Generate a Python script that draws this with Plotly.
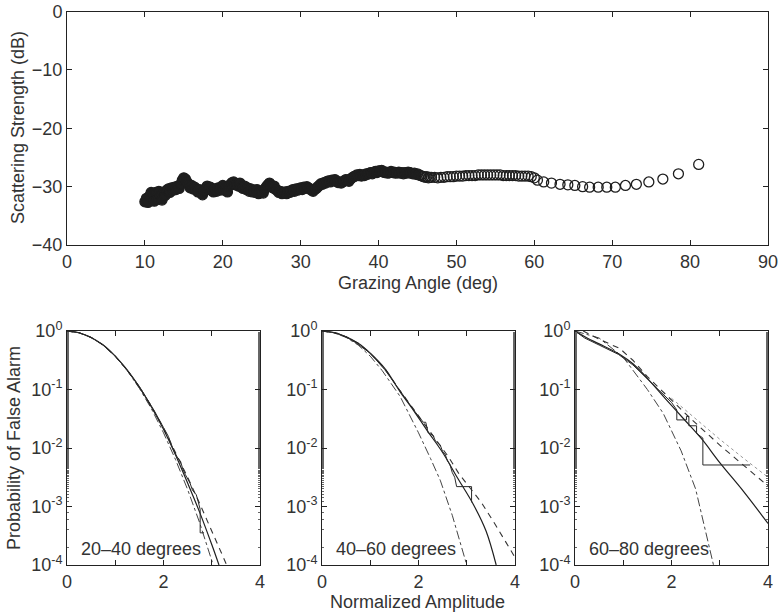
import plotly.graph_objects as go

# ---------------- Top panel data: scattering strength vs grazing angle ----------------
angle_dense = [
    10.0, 10.2, 10.4, 10.6, 10.8, 11.0, 11.2, 11.4, 11.6, 11.8,
    12.0, 12.2, 12.4, 12.6, 12.8, 13.0, 13.2, 13.4, 13.6, 13.8,
    14.0, 14.2, 14.4, 14.6, 14.8, 15.0, 15.2, 15.4, 15.6, 15.8,
    16.0, 16.2, 16.4, 16.6, 16.8, 17.0, 17.2, 17.4, 17.6, 17.8,
    18.0, 18.2, 18.4, 18.6, 18.8, 19.0, 19.2, 19.4, 19.6, 19.8,
    20.0, 20.2, 20.4, 20.6, 20.8, 21.0, 21.2, 21.4, 21.6, 21.8,
    22.0, 22.2, 22.4, 22.6, 22.8, 23.0, 23.2, 23.4, 23.6, 23.8,
    24.0, 24.2, 24.4, 24.6, 24.8, 25.0, 25.2, 25.4, 25.6, 25.8,
    26.0, 26.2, 26.4, 26.6, 26.8, 27.0, 27.2, 27.4, 27.6, 27.8,
    28.0, 28.2, 28.4, 28.6, 28.8, 29.0, 29.2, 29.4, 29.6, 29.8,
    30.0, 30.2, 30.4, 30.6, 30.8, 31.0, 31.2, 31.4, 31.6, 31.8,
    32.0, 32.2, 32.4, 32.6, 32.8, 33.0, 33.2, 33.4, 33.6, 33.8,
    34.0, 34.2, 34.4, 34.6, 34.8, 35.0, 35.2, 35.4, 35.6, 35.8,
    36.0, 36.2, 36.4, 36.6, 36.8, 37.0, 37.2, 37.4, 37.6, 37.8,
    38.0, 38.2, 38.4, 38.6, 38.8, 39.0, 39.2, 39.4, 39.6, 39.8,
    40.0, 40.2, 40.4, 40.6, 40.8, 41.0, 41.2, 41.4, 41.6, 41.8,
    42.0, 42.2, 42.4, 42.6, 42.8, 43.0, 43.2, 43.4, 43.6, 43.8,
    44.0, 44.2, 44.4, 44.6, 44.8, 45.0, 45.2, 45.4, 45.6, 45.8,
    46.0, 46.2, 46.4, 46.6, 46.8,
    47.2, 47.6, 48.0, 48.4, 48.8, 49.2, 49.6, 50.0, 50.4, 50.8,
    51.2, 51.6, 52.0, 52.4, 52.8, 53.2, 53.6, 54.0, 54.4, 54.8,
    55.2, 55.6, 56.0, 56.4, 56.8, 57.2, 57.6, 58.0, 58.4, 58.8,
    59.2, 59.6, 60.0,
    60.4, 61.2, 62.2, 63.3, 64.3, 65.2, 66.2, 67.1, 68.2, 69.3,
    70.4, 71.7, 73.1, 74.7, 76.5, 78.5, 81.1,
]
strength_db = [
    -32.6, -32.0, -32.7, -31.6, -31.0, -31.4, -32.5, -31.0, -32.2, -30.8,
    -31.6, -32.3, -31.1, -31.5, -30.6, -30.4, -31.0, -30.2, -30.6, -30.1,
    -30.5, -29.9, -30.3, -29.6, -28.9, -28.5, -28.7, -29.2, -29.6, -30.2,
    -29.8, -30.4, -30.1, -30.6, -30.9, -30.5, -31.1, -31.4, -30.8, -30.3,
    -29.9, -30.4, -30.1, -30.7, -30.9, -30.4, -30.8, -30.2, -30.6, -30.1,
    -29.8, -30.6, -30.2, -30.9, -29.9, -29.6, -29.3, -29.2, -29.7, -29.5,
    -29.9, -29.4, -30.1, -30.3, -29.9, -30.5, -30.2, -30.8, -30.4, -30.9,
    -30.6, -31.0, -30.5, -31.2, -30.8, -30.9, -31.1, -30.4, -30.0, -29.7,
    -29.4, -29.8, -30.2, -29.9, -30.5, -30.6, -31.0, -30.8, -31.2, -31.1,
    -30.9, -31.2, -30.8, -31.0, -30.7, -30.5, -30.8, -30.4, -30.6, -30.3,
    -30.2, -30.5, -30.1, -30.3, -30.0, -30.2, -30.4, -30.6, -30.8, -30.5,
    -30.3, -30.0, -29.8, -29.5, -29.6, -29.3, -29.4, -29.1, -29.0, -29.2,
    -28.9, -29.0, -28.8, -29.1, -29.3, -29.2, -29.4, -29.2, -29.0, -28.8,
    -28.9, -29.1, -28.7, -28.5, -28.3, -28.2, -28.0, -28.1, -27.9, -28.2,
    -28.0, -28.1, -27.8, -27.9, -27.7, -27.6, -27.8, -27.5, -27.4, -27.6,
    -27.3, -27.4, -27.2, -27.5, -27.6, -27.5, -27.7, -27.6, -27.4, -27.6,
    -27.5, -27.7, -27.6, -27.5, -27.7, -27.6, -27.8, -27.6, -27.7, -27.5,
    -27.6, -27.7, -27.8, -27.7, -27.9, -27.8, -28.0, -28.1, -28.2, -28.3,
    -28.4, -28.3, -28.5, -28.4, -28.4,
    -28.4, -28.5, -28.4, -28.4, -28.3, -28.3, -28.3, -28.2, -28.2, -28.2,
    -28.1, -28.1, -28.1, -28.1, -28.0, -28.0, -28.0, -28.0, -28.0, -28.0,
    -28.0, -28.0, -28.1, -28.1, -28.1, -28.1, -28.1, -28.2, -28.2, -28.2,
    -28.2, -28.3, -28.5,
    -28.9, -29.2, -29.4, -29.6, -29.7, -29.8, -30.0, -30.1, -30.1, -30.1,
    -30.1, -29.8, -29.6, -29.2, -28.7, -27.8, -26.2,
]
# below this angle the circles are so densely packed they print as a solid band
solid_band_limit = 45.0

# ---------------- Bottom panels: probability of false alarm (log10 values) ----------------
panel_labels = ["20\u201340 degrees", "40\u201360 degrees", "60\u201380 degrees"]

# Panel 1 (20-40 deg)
p1_emp_x = [0, 0.25, 0.5, 0.75, 1.0, 1.25, 1.5, 1.8, 2.0, 2.1, 2.2, 2.3, 2.35, 2.4, 2.45,
            2.5, 2.55, 2.6, 2.68, 2.72, 2.76, 2.76, 2.84]
p1_emp_logy = [0, -0.03, -0.11, -0.24, -0.43, -0.67, -0.95, -1.35, -1.65, -1.8, -2.02, -2.18,
               -2.22, -2.36, -2.45, -2.52, -2.6, -2.72, -2.8, -2.92, -3.05, -3.45, -3.45]
p1_fit_x = [0, 0.25, 0.5, 0.75, 1.0, 1.25, 1.5, 1.75, 2.0, 2.25, 2.5, 2.75, 3.0, 3.15]
p1_fit_logy = [0, -0.03, -0.11, -0.24, -0.43, -0.67, -0.96, -1.3, -1.68, -2.12, -2.6, -3.1, -3.65, -4.0]
p1_dash_x = [0, 0.25, 0.5, 0.75, 1.0, 1.25, 1.5, 1.75, 2.0, 2.25, 2.5, 2.75, 3.0, 3.31]
p1_dash_logy = [0, -0.03, -0.11, -0.24, -0.43, -0.67, -0.96, -1.29, -1.66, -2.07, -2.5, -2.95, -3.42, -4.0]
p1_dd_x = [0, 0.25, 0.5, 0.75, 1.0, 1.25, 1.5, 1.75, 2.0, 2.25, 2.5, 2.75, 3.03]
p1_dd_logy = [0, -0.027, -0.11, -0.24, -0.43, -0.68, -0.98, -1.33, -1.74, -2.2, -2.71, -3.28, -4.0]

# Panel 2 (40-60 deg)
p2_emp_x = [0, 0.3, 0.5, 0.7, 1.0, 1.3, 1.6, 1.9, 2.1, 2.15, 2.2, 2.3, 2.35, 2.45, 2.5, 2.55,
            2.6, 2.65, 2.7, 2.75, 2.79, 3.1, 3.1]
p2_emp_logy = [0, -0.03, -0.1, -0.2, -0.38, -0.66, -1.0, -1.35, -1.56, -1.56, -1.74, -1.78,
               -1.88, -1.95, -2.06, -2.1, -2.22, -2.28, -2.42, -2.5, -2.66, -2.66, -2.93]
p2_fit_x = [0, 0.25, 0.5, 0.75, 1.0, 1.3, 1.62, 1.9, 2.17, 2.51, 2.8, 3.14, 3.4, 3.61]
p2_fit_logy = [0, -0.03, -0.1, -0.21, -0.38, -0.64, -1.04, -1.36, -1.69, -2.09, -2.5, -2.97, -3.42, -4.0]
p2_dash_x = [0, 0.25, 0.5, 0.75, 1.0, 1.3, 1.6, 1.9, 2.2, 2.62, 2.83, 3.14, 3.31, 3.6, 3.86, 4.0]
p2_dash_logy = [0, -0.03, -0.1, -0.21, -0.38, -0.64, -1.0, -1.34, -1.66, -2.15, -2.43, -2.77, -2.94, -3.32, -3.69, -3.87]
p2_dd_x = [0, 0.25, 0.5, 0.75, 1.0, 1.25, 1.62, 2.0, 2.25, 2.45, 2.7, 3.0]
p2_dd_logy = [0, -0.03, -0.11, -0.24, -0.43, -0.68, -1.12, -1.74, -2.18, -2.55, -3.15, -4.0]

# Panel 3 (60-80 deg)
p3_emp_x = [0, 0.2, 0.5, 0.9, 1.2, 1.5, 1.8, 2.0, 2.11, 2.11, 2.31, 2.31, 2.36, 2.36, 2.52,
            2.52, 2.65, 2.65, 3.63]
p3_emp_logy = [0, -0.12, -0.24, -0.4, -0.58, -0.82, -1.06, -1.22, -1.35, -1.52, -1.52, -1.46,
               -1.46, -1.62, -1.62, -1.75, -1.83, -2.29, -2.29]
p3_fit_x = [0, 0.25, 0.5, 0.93, 1.2, 1.49, 1.9, 2.25, 2.63, 3.0, 3.5, 4.0]
p3_fit_logy = [0, -0.12, -0.22, -0.4, -0.56, -0.8, -1.18, -1.5, -1.85, -2.25, -2.75, -3.29]
p3_dash_x = [0.17, 0.5, 0.93, 1.2, 1.5, 1.8, 2.0, 2.4, 3.0, 3.5, 4.0]
p3_dash_logy = [0, -0.14, -0.3, -0.5, -0.78, -1.02, -1.17, -1.5, -1.95, -2.3, -2.65]
p3_dot_x = [2.0, 2.5, 3.0, 3.5, 4.0]
p3_dot_logy = [-1.15, -1.5, -1.85, -2.18, -2.5]
p3_dd_x = [0, 0.5, 1.0, 1.5, 1.83, 2.2, 2.5, 2.87]
p3_dd_logy = [0, -0.12, -0.45, -1.0, -1.41, -2.05, -2.7, -4.0]

# ---------------- Figure ----------------
W, H = 781, 615
INK = "#1e1e1e"
TXT = "#333333"
FONT = "Liberation Sans, Arial, sans-serif"
TICK_SIZE = 18
TITLE_SIZE = 18


def px_x(p):
    return p / W


def px_y(p):
    return 1 - p / H


fig = go.Figure()

symbols = ["circle" if a < solid_band_limit else "circle-open" for a in angle_dense]
fig.add_trace(go.Scatter(
    x=angle_dense, y=strength_db, mode="markers",
    marker=dict(symbol=symbols, size=10, color=INK, line=dict(width=1.3, color=INK)),
    xaxis="x", yaxis="y", showlegend=False, hoverinfo="skip"))


def logv(v):
    return [10 ** a for a in v]


panels = [
    dict(emp=(p1_emp_x, p1_emp_logy), fit=(p1_fit_x, p1_fit_logy),
         dash=(p1_dash_x, p1_dash_logy), dd=(p1_dd_x, p1_dd_logy), dot=None),
    dict(emp=(p2_emp_x, p2_emp_logy), fit=(p2_fit_x, p2_fit_logy),
         dash=(p2_dash_x, p2_dash_logy), dd=(p2_dd_x, p2_dd_logy), dot=None),
    dict(emp=(p3_emp_x, p3_emp_logy), fit=(p3_fit_x, p3_fit_logy),
         dash=(p3_dash_x, p3_dash_logy), dd=(p3_dd_x, p3_dd_logy), dot=(p3_dot_x, p3_dot_logy)),
]

for i, p in enumerate(panels):
    xa = "x%d" % (i + 2)
    ya = "y%d" % (i + 2)
    fig.add_trace(go.Scatter(x=p["dd"][0], y=logv(p["dd"][1]), mode="lines",
                             line=dict(color="#444", width=1, dash="dashdot"),
                             xaxis=xa, yaxis=ya, showlegend=False, hoverinfo="skip"))
    if p["dot"] is not None:
        fig.add_trace(go.Scatter(x=p["dot"][0], y=logv(p["dot"][1]), mode="lines",
                                 line=dict(color="#999", width=1, dash="dot"),
                                 xaxis=xa, yaxis=ya, showlegend=False, hoverinfo="skip"))
    fig.add_trace(go.Scatter(x=p["dash"][0], y=logv(p["dash"][1]), mode="lines",
                             line=dict(color="#333", width=1.1, dash="6px,5px"),
                             xaxis=xa, yaxis=ya, showlegend=False, hoverinfo="skip"))
    fig.add_trace(go.Scatter(x=p["fit"][0], y=logv(p["fit"][1]), mode="lines",
                             line=dict(color=INK, width=1.2, shape="spline"),
                             xaxis=xa, yaxis=ya, showlegend=False, hoverinfo="skip"))
    fig.add_trace(go.Scatter(x=p["emp"][0], y=logv(p["emp"][1]), mode="lines",
                             line=dict(color="#2a2a2a", width=1),
                             xaxis=xa, yaxis=ya, showlegend=False, hoverinfo="skip"))

axis_common = dict(showline=True, linecolor="#222", linewidth=1, mirror="ticks",
                   ticks="inside", ticklen=5, tickcolor="#222", showgrid=False,
                   zeroline=False, automargin=False,
                   tickfont=dict(family=FONT, size=TICK_SIZE, color=TXT))

layout = dict(
    width=W, height=H, margin=dict(l=0, r=0, t=0, b=0, autoexpand=False),
    paper_bgcolor="white", plot_bgcolor="white", showlegend=False,
    xaxis=dict(domain=[px_x(67), px_x(768)], range=[0, 90], tickvals=list(range(0, 91, 10)),
               anchor="y", **axis_common),
    yaxis=dict(domain=[px_y(245), px_y(11.5)], range=[-40, 0], tickvals=[-40, -30, -20, -10, 0],
               anchor="x", **axis_common),
)

xdoms = [(67, 260), (322, 515), (575, 768)]
for i, (a, b) in enumerate(xdoms):
    k = i + 2
    layout["xaxis%d" % k] = dict(domain=[px_x(a), px_x(b)], range=[0, 4],
                                 tickvals=[0, 1, 2, 3, 4], ticktext=["0", "", "2", "", "4"],
                                 anchor="y%d" % k, **axis_common)
    layout["yaxis%d" % k] = dict(domain=[px_y(565), px_y(331)], type="log", range=[-4, 0],
                                 tickvals=[1e-4, 1e-3, 1e-2, 1e-1, 1],
                                 ticktext=["10<sup>-4</sup>", "10<sup>-3</sup>", "10<sup>-2</sup>",
                                           "10<sup>-1</sup>", "10<sup>0</sup>"],
                                 minor=dict(ticks="inside", ticklen=2, tickcolor="#666",
                                            showgrid=False),
                                 anchor="x%d" % k, **axis_common)

fig.update_layout(**layout)

annos = [
    dict(text="Scattering Strength (dB)", x=px_x(18), y=px_y(128), textangle=-90),
    dict(text="Grazing Angle (deg)", x=px_x(418), y=px_y(283)),
    dict(text="Probability of False Alarm", x=px_x(14), y=px_y(448), textangle=-90),
    dict(text="Normalized Amplitude", x=px_x(418), y=px_y(602)),
]
for a in annos:
    fig.add_annotation(xref="paper", yref="paper", showarrow=False,
                       xanchor="center", yanchor="middle",
                       font=dict(family=FONT, size=TITLE_SIZE, color=TXT), **a)

for i, (a, b) in enumerate(xdoms):
    fig.add_annotation(xref="paper", yref="paper", showarrow=False,
                       x=px_x(a + 12), y=px_y(549), xanchor="left", yanchor="middle",
                       text=panel_labels[i], font=dict(family=FONT, size=TITLE_SIZE, color=TXT))

# page body has a default 8px margin; remove it so the figure sits at the window origin
fig.write_html("out.html", config={"displayModeBar": False},
               post_script="document.body.style.margin='0';")
